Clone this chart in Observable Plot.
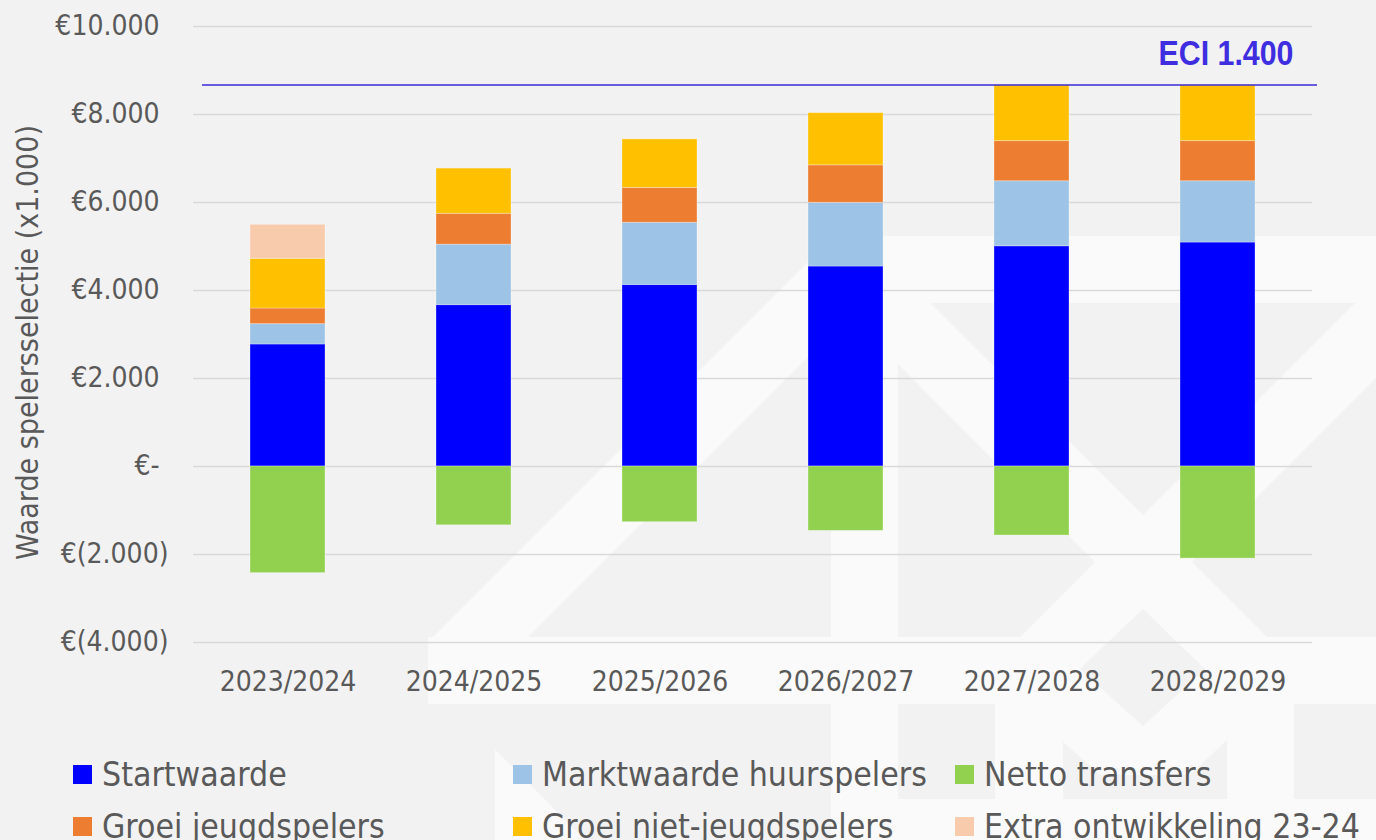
<!DOCTYPE html>
<html>
<head>
<meta charset="utf-8">
<script src="https://cdn.jsdelivr.net/npm/d3@7"></script>
<script src="https://cdn.jsdelivr.net/npm/@observablehq/plot@0.6"></script>
<style>
  html, body { margin: 0; padding: 0; background: #f2f2f2; width: 1376px; height: 840px; overflow: hidden; }
  body { position: relative; font-family: "DejaVu Sans Condensed", "DejaVu Sans", sans-serif; font-stretch: condensed; }
  #wm { position: absolute; left: 0; top: 0; z-index: 0; }
  #chart { position: absolute; left: 0; top: 0; z-index: 1; }
  #legend { position: absolute; left: 73px; top: 748px; z-index: 2; display: grid;
    grid-template-columns: 440px 442px auto; grid-auto-rows: 52px; color: #595959; font-size: 33.5px; }
  .item { display: flex; align-items: center; white-space: nowrap; }
  .sw { width: 19px; height: 19px; margin-right: 10px; flex: none; }
</style>
</head>
<body>
<svg id="wm" width="1376" height="840" xmlns="http://www.w3.org/2000/svg">
  <g fill="#fafafa">
    <rect x="428" y="236" width="948" height="604"></rect>
  </g>
  <g fill="#f2f2f2">
    <polygon points="420,230 834,230 834,236 433,637 420,637"></polygon>
    <polygon points="528,637 831,334 831,637"></polygon>
    <polygon points="898,364 1095,562 1020,637 898,637"></polygon>
    <polygon points="930,303 1355,303 1143,515"></polygon>
    <polygon points="1376,378 1192,562 1267,637 1376,637"></polygon>
    <rect x="428" y="704" width="403" height="136"></rect>
    <rect x="898" y="704" width="97" height="95"></rect>
    <polygon points="1143,609 1205,669 1143,726 1080,669"></polygon>
    <polygon points="1063,742 1100,775 1190,775 1227,740 1227,799 1063,799"></polygon>
    <rect x="1294" y="704" width="82" height="95"></rect>
  </g>
  <g fill="#fafafa">
    <polygon points="495,750 495,840 585,840"></polygon>
  </g>
</svg>
<div id="chart"></div>
<div id="legend"></div>
<script>
// ---- Data ----
const categories = ["2023/2024", "2024/2025", "2025/2026", "2026/2027", "2027/2028", "2028/2029"];
const startwaarde = [2773, 3668, 4126, 4545, 5005, 5090];
const marktwaardeHuurspelers = [463, 1374, 1414, 1447, 1478, 1393];
const groeiJeugdspelers = [355, 701, 792, 853, 913, 913];
const groeiNietJeugdspelers = [1129, 1027, 1102, 1185, 1268, 1268];
const extraOntwikkeling = [773, 0, 0, 0, 0, 0];
const nettoTransfers = [-2423, -1336, -1265, -1463, -1569, -2093];

const seriesNames = ["Startwaarde", "Marktwaarde huurspelers", "Groei jeugdspelers", "Groei niet-jeugdspelers", "Extra ontwikkeling 23-24", "Netto transfers"];
const seriesValues = [startwaarde, marktwaardeHuurspelers, groeiJeugdspelers, groeiNietJeugdspelers, extraOntwikkeling, nettoTransfers];
const seriesColors = ["#0000ff", "#9dc3e6", "#ed7d31", "#ffc000", "#f8cbad", "#92d050"];

const legendOrder = ["Startwaarde", "Marktwaarde huurspelers", "Netto transfers", "Groei jeugdspelers", "Groei niet-jeugdspelers", "Extra ontwikkeling 23-24"];

const eciValue = 8672;
const eciLabel = "ECI 1.400";
const yTicks = [-4000, -2000, 0, 2000, 4000, 6000, 8000, 10000];
const yLabel = "Waarde spelersselectie (x1.000)";

// ---- Build table ----
const rows = [];
seriesNames.forEach((s, i) => {
  categories.forEach((c, j) => {
    const v = seriesValues[i][j];
    if (v !== 0) rows.push({category: c, series: s, value: v});
  });
});

const num = v => d3.format(",")(v).replace(/,/g, ".");
const fmt = v => v === 0 ? "€-" : v < 0 ? `€(${num(-v)})` : `€${num(v)}`;

const FONT = '"DejaVu Sans Condensed", "DejaVu Sans", sans-serif';
const textColor = "#595959";

const chart = Plot.plot({
  width: 1376,
  height: 720,
  marginTop: 26,
  marginBottom: 78,
  marginLeft: 193,
  marginRight: 64,
  style: {background: "transparent", fontFamily: FONT, fontStretch: "condensed", color: textColor},
  x: {domain: categories, paddingInner: 0.598, paddingOuter: 0.299, label: null},
  y: {domain: [-4000, 10000], label: null},
  color: {domain: seriesNames, range: seriesColors},
  marks: [
    Plot.gridY(yTicks, {stroke: "#d9d9d9", strokeOpacity: 1, strokeWidth: 1.5}),
    Plot.barY(rows, {x: "category", y: "value", fill: "series", order: seriesNames,
      stroke: "#ffffff", strokeOpacity: 0.3, strokeWidth: 1}),
    Plot.ruleY([eciValue], {stroke: "#3b2bd6", strokeWidth: 1.5, insetLeft: 9, insetRight: -5}),
    Plot.text([eciLabel], {frameAnchor: "top-right", dx: -19, dy: 14, lineAnchor: "top", textAnchor: "end",
      fontSize: 35, fontWeight: "bold", fill: "#3f2ee0", className: "eci",
      fontFamily: '"Liberation Sans Narrow", "Arial Narrow", "Liberation Sans", sans-serif'}),
    Plot.axisX({tickSize: 0, tickPadding: 29, fontSize: 28, label: null, fill: textColor}),
    Plot.axisY(yTicks.filter(t => t >= 0), {tickSize: 0, tickPadding: 25, dx: -9, fontSize: 28, tickFormat: fmt, label: null, fill: textColor}),
    Plot.axisY(yTicks.filter(t => t < 0), {tickSize: 0, tickPadding: 25, fontSize: 28, tickFormat: fmt, label: null, fill: textColor}),
    Plot.text([yLabel], {frameAnchor: "left", rotate: -90, textAnchor: "middle", dx: -165, dy: 8, fontSize: 30, fill: textColor})
  ]
});
document.getElementById("chart").appendChild(chart);

// condense the ECI label to the reference's narrow bold look
chart.querySelectorAll(".eci text").forEach(t => {
  t.setAttribute("textLength", "135");
  t.setAttribute("lengthAdjust", "spacingAndGlyphs");
});

// ---- Legend ----
const legend = document.getElementById("legend");
const colorOf = Object.fromEntries(seriesNames.map((s, i) => [s, seriesColors[i]]));
legendOrder.forEach(s => {
  const item = document.createElement("div");
  item.className = "item";
  const sw = document.createElement("span");
  sw.className = "sw";
  sw.style.background = colorOf[s];
  const t = document.createElement("span");
  t.textContent = s;
  item.appendChild(sw);
  item.appendChild(t);
  legend.appendChild(item);
});
</script>
</body>
</html>
